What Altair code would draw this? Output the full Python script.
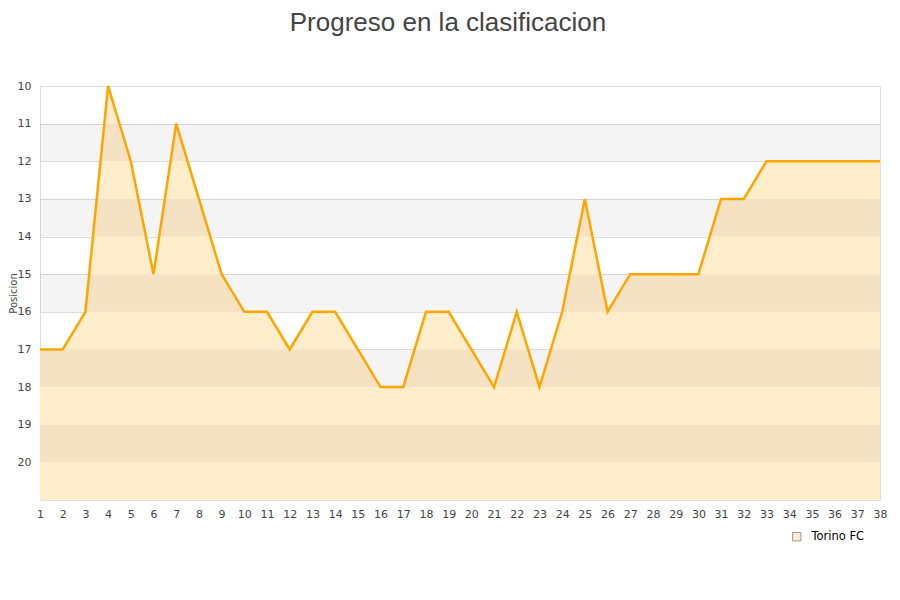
import altair as alt
import pandas as pd

jornadas = list(range(1, 39))
posiciones = [17, 17, 16, 10, 12, 15, 11, 13, 15, 16, 16, 17, 16, 16, 17, 18, 18, 16, 16, 17,
              18, 16, 18, 16, 13, 16, 15, 15, 15, 15, 13, 13, 12, 12, 12, 12, 12, 12]
equipo = "Torino FC"
band_start = [11, 13, 15, 17, 19]
band_end = [12, 14, 16, 18, 20]
y_ticks = list(range(10, 21))

df = pd.DataFrame({"jornada": jornadas, "pos": posiciones, "team": equipo, "base": 21})
bands = pd.DataFrame({"y1": band_start, "y2": band_end})

font = "DejaVu Sans"
yscale = alt.Scale(domain=[10, 21], reverse=True, nice=False, zero=False)
xscale = alt.Scale(domain=[1, 38], nice=False, zero=False)

x_axis = alt.Axis(values=jornadas, title=None, grid=False, domain=False, ticks=False,
                  labelAngle=0, labelPadding=8, labelFont=font, labelFontSize=11,
                  labelColor="#444", labelFlush=False, labelOverlap=False)
y_axis = alt.Axis(values=y_ticks, title="Posicion", grid=True, gridColor="#dddddd",
                  domain=False, ticks=False, labelPadding=9, labelFont=font,
                  labelFontSize=11, labelColor="#444", labelOverlap=False, titleFont=font,
                  titleFontSize=10, titleFontWeight="normal", titleColor="#444",
                  titleX=-27, titleY=207, titleAngle=270, titleAlign="center",
                  titleBaseline="middle")

area = alt.Chart(df).mark_area(opacity=1, interpolate="linear").encode(
    x=alt.X("jornada:Q", scale=xscale, axis=x_axis),
    y=alt.Y("pos:Q", scale=yscale, axis=y_axis),
    y2=alt.Y2("base:Q"),
    fill=alt.Fill("team:N", scale=alt.Scale(range=["#FFEDCC"]),
                  legend=alt.Legend(title=None, orient="none", legendX=751, legendY=445,
                                    symbolType="square", symbolSize=70, labelOffset=9,
                                    symbolStrokeColor="#999999", symbolStrokeWidth=1,
                                    labelFont=font, labelFontSize=11.5, labelColor="#000")),
)

band_layer = alt.Chart(bands).mark_rect(color="#000000", opacity=0.045).encode(
    y=alt.Y("y1:Q", scale=yscale, axis=y_axis),
    y2="y2:Q",
)

line = alt.Chart(df).mark_line(color="#FFA500", strokeWidth=2.5, interpolate="linear").encode(
    x=alt.X("jornada:Q", scale=xscale, axis=x_axis),
    y=alt.Y("pos:Q", scale=yscale, axis=y_axis),
)

chart = alt.layer(area, band_layer, line).properties(
    width=840, height=414,
    autosize=alt.AutoSizeParams(type="none"),
    padding={"left": 32, "top": 78, "right": 12, "bottom": 80},
    title=alt.TitleParams("Progreso en la clasificacion", font="Liberation Sans",
                          fontSize=26, fontWeight="normal", color="#444444",
                          anchor="middle", dx=-12, offset=44),
).configure_view(stroke="#dddddd", strokeWidth=1)

chart.save("out.html", embed_options={"renderer": "svg", "actions": False})
